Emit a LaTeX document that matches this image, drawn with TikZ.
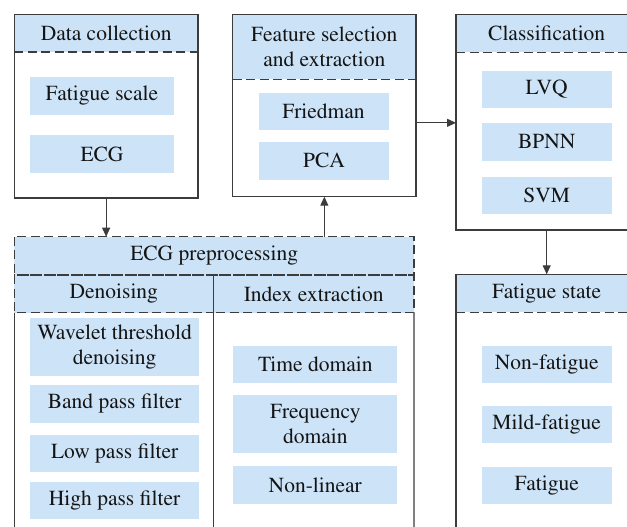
\documentclass[tikz,border=0pt]{standalone}
\usepackage[T1]{fontenc}
\usepackage{mathptmx}
\usetikzlibrary{arrows.meta,calc}
\definecolor{hdrblue}{RGB}{204,227,247}
\definecolor{itemblue}{RGB}{205,227,247}
\definecolor{linegray}{RGB}{60,60,60}
\definecolor{txt}{RGB}{20,20,20}
\tikzset{
  base/.style={inner sep=0pt, outer sep=0pt, align=center, text=txt,
    font=\fontsize{21.5}{25}\selectfont},
  header/.style={base, fill=hdrblue},
  item/.style={base, fill=itemblue},
  frame/.style={inner sep=0pt, outer sep=0pt, draw=linegray, line width=1.2pt},
  hdrline/.style={draw=linegray, line width=1.1pt, dash pattern=on 9pt off 4.5pt},
  solidline/.style={draw=linegray, line width=1.2pt},
  arr/.style={draw=linegray, line width=1pt, -{Triangle[length=9pt,width=8pt]}}
}
\begin{document}
\begin{tikzpicture}[x=1pt,y=-1pt]
\useasboundingbox (0,0) rectangle (627,527);
\clip (0,0) rectangle (627,527);
\fill[white] (0,0) rectangle (627,527);

% Data collection
\node (dch) [header, minimum width=183.7, minimum height=37.7] at (106.15,33.15) {Data collection};
\node (dc) [frame, minimum width=183.7, minimum height=183.7] at (106.15,106.15) {};
\draw[hdrline] (dch.south west) -- (dch.south east);
\node (fsc) [item, minimum width=144, minimum height=38] at (102,96) {Fatigue scale};
\node (ecg) [item, minimum width=144, minimum height=38] at (102,154) {ECG};

% Feature selection and extraction
\node (feh) [header, minimum width=183.3, minimum height=65] at (324.35,46.8) {Feature selection\\and extraction};
\node (fe) [frame, minimum width=183.3, minimum height=182.4] at (324.35,105.5) {};
\draw[hdrline] (feh.south west) -- (feh.south east);
\node (fri) [item, minimum width=130, minimum height=37.5] at (323.5,111.3) {Friedman};
\node (pca) [item, minimum width=130, minimum height=38] at (324,160.8) {PCA};

% Classification
\node (clh) [header, minimum width=181.4, minimum height=38] at (546.7,33.3) {Classification};
\node (cl) [frame, minimum width=181.4, minimum height=215.7] at (546.7,122.15) {};
\draw[hdrline] (clh.south west) -- (clh.south east);
\node (lvq) [item, minimum width=130, minimum height=37.6] at (546.7,89.5) {LVQ};
\node (bpnn) [item, minimum width=130, minimum height=38] at (546.7,141.7) {BPNN};
\node (svm) [item, minimum width=130, minimum height=37.4] at (546.7,195.35) {SVM};

% Fatigue state
\node (sth) [header, minimum width=181.4, minimum height=38] at (546.7,293.3) {Fatigue state};
\node (st) [frame, minimum width=181.4, minimum height=270.7] at (546.7,409.65) {};
\draw[hdrline] (sth.south west) -- (sth.south east);
\node (nf) [item, minimum width=130, minimum height=37.6] at (546.7,364.5) {Non-fatigue};
\node (mf) [item, minimum width=130, minimum height=37] at (546.7,424.2) {Mild-fatigue};
\node (fa) [item, minimum width=130, minimum height=37.6] at (546.7,485.5) {Fatigue};

% ECG preprocessing
\node (preh) [header, minimum width=399.7, minimum height=38.3] at (214.15,255.85) {ECG preprocessing};
\node (denh) [header, minimum width=199, minimum height=37.7] at (113.8,293.85) {Denoising};
\node (idxh) [header, minimum width=200.7, minimum height=37.7] at (313.65,293.85) {Index extraction};
\draw[hdrline] (preh.north west) rectangle (preh.south east);
\draw[hdrline] (denh.north west) rectangle (denh.south east);
\draw[hdrline] (idxh.north west) rectangle (idxh.south east);
\coordinate (prebl) at (14.3,545);
\coordinate (premb) at (213.3,545);
\coordinate (prebr) at (414,545);
\draw[solidline] (denh.south west) -- (prebl);
\draw[solidline] (denh.south east) -- (premb);
\draw[solidline] (idxh.south east) -- (prebr);

\node (wav) [item, minimum width=169.3, minimum height=57.4] at (114.65,347) {Wavelet threshold\\denoising};
\node (band) [item, minimum width=169.3, minimum height=37.7] at (114.65,403.85) {Band pass filter};
\node (low) [item, minimum width=169.3, minimum height=37.3] at (114.65,453.65) {Low pass filter};
\node (high) [item, minimum width=169.3, minimum height=37.6] at (114.65,500.5) {High pass filter};

\node (time) [item, minimum width=164, minimum height=37.6] at (315.3,364.5) {Time domain};
\node (freq) [item, minimum width=164, minimum height=58.3] at (315.3,424.15) {Frequency\\domain};
\node (nonl) [item, minimum width=164, minimum height=38.3] at (315.3,485.15) {Non-linear};

% Connectors
\draw[arr] (dc.south) -- (dc.south |- preh.north);
\draw[arr] (fe.south |- preh.north) -- (fe.south);
\coordinate (feout) at ($(fe.north east)!0.595!(fe.south east)$);
\draw[arr] (feout) -- (feout -| cl.west);
\draw[arr] (cl.south) -- (sth.north);
\end{tikzpicture}
\end{document}
